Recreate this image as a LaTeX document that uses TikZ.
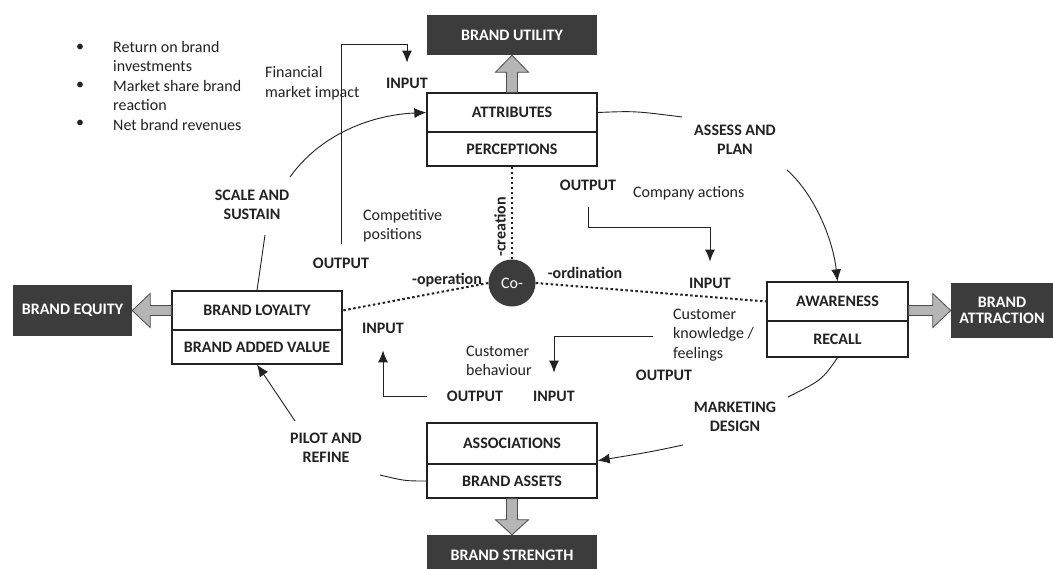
\documentclass[tikz,border=0pt]{standalone}
\usepackage{fontspec}
\setmainfont{Carlito}
\usetikzlibrary{arrows.meta,calc}
\definecolor{darkbox}{HTML}{3C3C3C}
\definecolor{fatgray}{HTML}{B5B5B5}
\definecolor{ink}{HTML}{222222}
\begin{document}
\begin{tikzpicture}[x=1pt,y=-1pt,
  cell/.style={draw=ink, line width=1.3pt, fill=white, minimum width=170pt, inner sep=0pt, text=ink, font=\bfseries\fontsize{16}{18}\selectfont},
  dark/.style={fill=darkbox, text=white, inner sep=0pt, font=\bfseries\fontsize{16}{18}\selectfont, align=center},
  lab/.style={inner sep=0pt, text=ink, font=\bfseries\fontsize{16}{19.5}\selectfont, align=center},
  txt/.style={inner sep=0pt, text=ink, font=\fontsize{16}{19.5}\selectfont, align=left},
  conn/.style={draw=ink, line width=0.9pt, -{Latex[length=12pt,width=10pt]}},
  plainline/.style={draw=ink, line width=0.9pt},
  dots/.style={draw=ink, line width=2pt, dash pattern=on 2.5pt off 2.5pt},
  fat/.style={fill=fatgray, draw=black!70, line width=0.8pt, line join=miter}
]
\useasboundingbox (0,0) rectangle (1053,569);
\fill[white] (0,0) rectangle (1053,569);

% ---------- boxes ----------
\node[dark, minimum width=170pt, minimum height=40pt] (util) at (512,35) {BRAND UTILITY};
\node[cell, minimum height=39pt] (attr) at (512,112.5) {ATTRIBUTES};
\node[cell, minimum height=34pt] (perc) at (512,149) {PERCEPTIONS};

\node[cell, minimum width=141pt, minimum height=39pt] (aware) at (837.5,301.5) {AWARENESS};
\node[cell, minimum width=141pt, minimum height=36pt] (recall) at (837.5,339) {RECALL};
\node[dark, minimum width=102pt, minimum height=55pt] (attract) at (1002,310.5) {BRAND\\[-2pt]ATTRACTION};

\node[cell, minimum height=39pt] (loyal) at (257,310.5) {BRAND LOYALTY};
\node[cell, minimum height=34pt] (added) at (257,347) {BRAND ADDED VALUE};
\node[dark, minimum width=119pt, minimum height=51pt] (equity) at (72.5,310.5) {BRAND EQUITY};

\node[cell, minimum height=41pt] (assoc) at (512,443.5) {ASSOCIATIONS};
\node[cell, minimum height=34pt] (assets) at (512,481) {BRAND ASSETS};
\node[dark, minimum width=170pt, minimum height=40pt] (strength) at (512,555) {BRAND STRENGTH};

\node[circle, fill=darkbox, minimum size=47pt, inner sep=0pt, text=white, font=\fontsize{16}{18}\selectfont] (co) at (512,283) {Co-};

% ---------- fat arrows ----------
\draw[fat] ($(attr.north)+(-5.5,0)$) -- ($(util.south)+(-5.5,17)$) -- ($(util.south)+(-16.5,17)$) -- (util.south)
  -- ($(util.south)+(16.5,17)$) -- ($(util.south)+(5.5,17)$) -- ($(attr.north)+(5.5,0)$) -- cycle;
\draw[fat] ($(assets.south)+(-5.5,0)$) -- ($(strength.north)+(-5.5,-15)$) -- ($(strength.north)+(-16.5,-15)$) -- (strength.north)
  -- ($(strength.north)+(16.5,-15)$) -- ($(strength.north)+(5.5,-15)$) -- ($(assets.south)+(5.5,0)$) -- cycle;
\coordinate (ae) at (aware.east |- attract.west);
\draw[fat] ($(ae)+(0,-5)$) -- ($(attract.west)+(-18,-5)$) -- ($(attract.west)+(-18,-17)$) -- (attract.west)
  -- ($(attract.west)+(-18,17)$) -- ($(attract.west)+(-18,5)$) -- ($(ae)+(0,5)$) -- cycle;
\draw[fat] ($(loyal.west)+(0,-5)$) -- ($(equity.east)+(18,-5)$) -- ($(equity.east)+(18,-17)$) -- (equity.east)
  -- ($(equity.east)+(18,17)$) -- ($(equity.east)+(18,5)$) -- ($(loyal.west)+(0,5)$) -- cycle;

% ---------- dotted co-links ----------
\draw[dots] (perc.south) -- (co.north);
\draw[dots] (co.east) -- (aware.west);
\draw[dots] (co.west) -- (loyal.east);
\node[txt, rotate=90, font=\bfseries\fontsize{16}{18}\selectfont] (creat) at (500,227) {-creation};
\node[lab] (ordin) at (585,273) {-ordination};
\node[lab] (oper) at (447,280) {-operation};

% ---------- bullet list ----------
\node[txt] (b1) at (80,48) {•};
\node[txt] (b2) at (80,86) {•};
\node[txt] (b3) at (80,124) {•};
\node[txt, anchor=west] (blist) at (113,86) {Return on brand\\investments\\Market share brand\\reaction\\Net brand revenues};

% ---------- labels ----------
\node[txt, anchor=west] (fin) at (265,83) {Financial\\market impact};
\node[lab] (inA) at (407,83) {INPUT};
\node[lab] (outA) at (341,263) {OUTPUT};
\node[txt, anchor=west] (comp) at (363,226) {Competitive\\positions};
\node[lab] (sas) at (252,205) {SCALE AND\\SUSTAIN};
\node[lab] (aap) at (735,140) {ASSESS AND\\PLAN};
\node[lab] (outB) at (588,185) {OUTPUT};
\node[txt, anchor=west] (cact) at (633,193) {Company actions};
\node[lab] (inB) at (710,283) {INPUT};
\node[txt, anchor=west] (ckf) at (673,335) {Customer\\knowledge /\\feelings};
\node[lab] (outC) at (664,375) {OUTPUT};
\node[txt, anchor=west] (cbeh) at (466,361) {Customer\\behaviour};
\node[lab] (inC) at (554,396) {INPUT};
\node[lab] (outD) at (475,396) {OUTPUT};
\node[lab] (inD) at (383,328) {INPUT};
\node[lab] (mkd) at (735,417) {MARKETING\\DESIGN};
\node[lab] (par) at (326,448) {PILOT AND\\REFINE};

% ---------- elbow connectors ----------
\draw[conn] ($(outA.north)+(0,-13)$) -- ++(0,-200) -| ($(inA.north)+(0,-15)$);
\draw[conn] ($(outB.south)+(0,16)$) -- ++(0,21) -| ($(inB.north)+(0,-16)$);
\draw[conn] ($(ckf.west)+(-20,1)$) -| ($(inC.north)+(0,-18)$);
\draw[conn] ($(outD.west)+(-20,0)$) -| ($(inD.south)+(0,17)$);

% ---------- cycle curves ----------
\coordinate (s1) at (265,235);
\coordinate (s2) at (290,177);
\draw[plainline] (loyal.north) .. controls (260,270) .. (s1);
\draw[conn] (s2) .. controls (320,135) and (370,115) .. (attr.west);

\coordinate (p1) at (682,117);
\coordinate (p2) at (787,170);
\draw[plainline] (attr.east) .. controls (635,111) .. (p1);
\draw[conn] (p2) .. controls (815,195) and (833,240) .. (aware.north);

\coordinate (m1) at (788,397);
\coordinate (m2) at (683,445);
\draw[plainline] (recall.south) .. controls (822,380) .. (m1);
\draw[conn] (m2) .. controls (650,452) .. ($(assoc.south east)+(0,-4)$);

\coordinate (r1) at (380,475);
\coordinate (r2) at (295,421);
\draw[plainline] (assets.west) .. controls (405,481) .. (r1);
\draw[conn] (r2) .. controls (280,398) .. (added.south);
\end{tikzpicture}
\end{document}
